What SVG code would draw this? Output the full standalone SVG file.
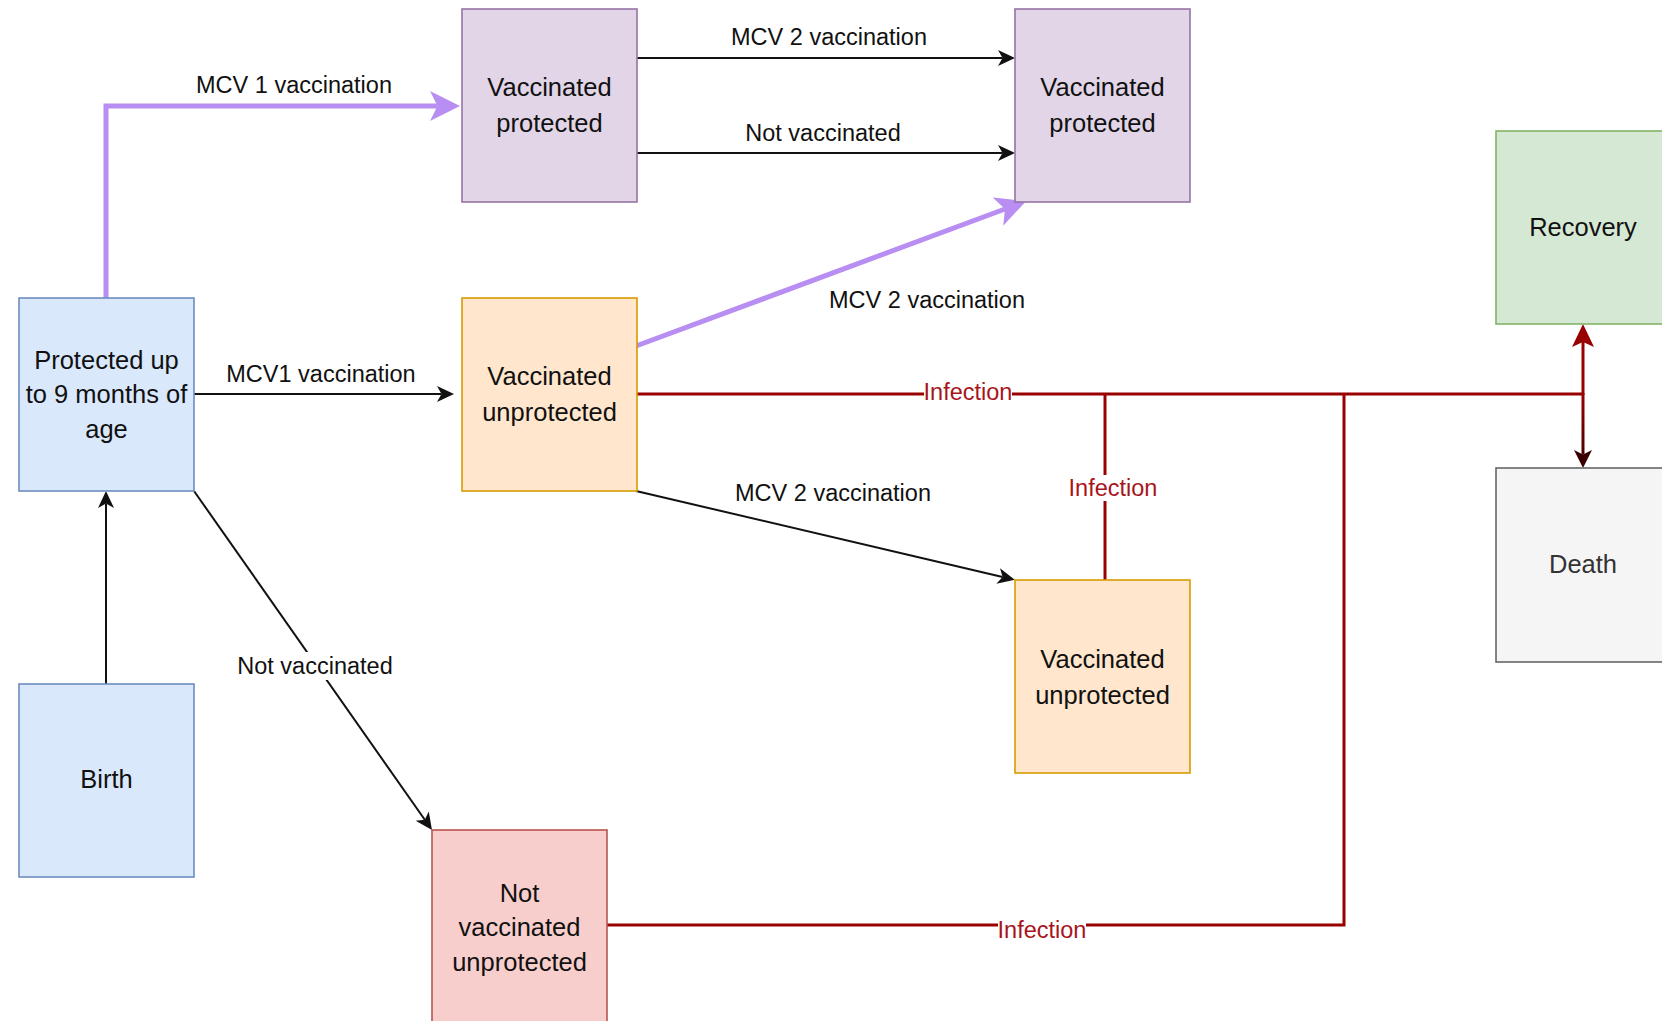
<svg xmlns="http://www.w3.org/2000/svg" width="1662" height="1021" viewBox="0 0 1662 1021">
<style>
  .box { stroke-width: 1.6; }
  .purple { fill: #e1d5e7; stroke: #9673a6; }
  .blue { fill: #dae8fc; stroke: #6c8ebf; }
  .orange { fill: #ffe6cc; stroke: #d79b00; }
  .red { fill: #f8cecc; stroke: #b85450; }
  .green { fill: #d5e8d4; stroke: #82b366; }
  .gray { fill: #f5f5f5; stroke: #666666; }
  .nt { font-family: "Liberation Sans", Arial, sans-serif; font-size: 25.5px; fill: #111; text-anchor: middle; }
  .nt.dim { fill: #333333; }
  .lbl { font-family: "Liberation Sans", Arial, sans-serif; font-size: 23.5px; fill: #111; text-anchor: middle; }
  .inf { font-family: "Liberation Sans", Arial, sans-serif; font-size: 23.5px; fill: #a8141c; text-anchor: middle; }
  .blk { fill: none; stroke: #111; stroke-width: 2; }
  .prp { fill: none; stroke: #b88ef2; stroke-width: 5; }
  .rd { fill: none; stroke: #990000; stroke-width: 3; }
  .bg { fill: #ffffff; }
</style>
<defs>
  <marker id="arrBlack" markerUnits="userSpaceOnUse" markerWidth="18" markerHeight="18" viewBox="0 0 18 18" refX="4.5" refY="9" orient="auto">
    <path d="M0,1 L17,9 L0,17 L4.5,9 Z" fill="#111"/>
  </marker>
  <marker id="arrPurple" markerUnits="userSpaceOnUse" markerWidth="32" markerHeight="32" viewBox="0 0 32 32" refX="7.5" refY="16" orient="auto">
    <path d="M0,1 L30,16 L0,31 L7.5,16 Z" fill="#b88ef2"/>
  </marker>
  <marker id="arrRed" markerUnits="userSpaceOnUse" markerWidth="24" markerHeight="24" viewBox="0 0 24 24" refX="5" refY="12" orient="auto">
    <path d="M0,1 L23,12 L0,23 L5,12 Z" fill="#990000"/>
  </marker>
  <marker id="arrDark" markerUnits="userSpaceOnUse" markerWidth="20" markerHeight="20" viewBox="0 0 20 20" refX="4.5" refY="10" orient="auto">
    <path d="M0,1 L18,10 L0,19 L4.5,10 Z" fill="#3a0000"/>
  </marker>
  <linearGradient id="gDown" gradientUnits="userSpaceOnUse" x1="0" y1="394" x2="0" y2="468">
    <stop offset="0" stop-color="#990000"/>
    <stop offset="1" stop-color="#3a0000"/>
  </linearGradient>
</defs>

<g id="connectors">
  <!-- Protected -> VP1 (purple) -->
  <path class="prp" d="M106,298 V106 H437.5" marker-end="url(#arrPurple)"/>
  <!-- VP1 -> VP2 -->
  <path class="blk" d="M636,58 H1002.5" marker-end="url(#arrBlack)"/>
  <path class="blk" d="M636,153 H1002.5" marker-end="url(#arrBlack)"/>
  <!-- VU1 -> VP2 (purple) -->
  <path class="prp" d="M636,346 L1005,209" marker-end="url(#arrPurple)"/>
  <!-- Protected -> VU1 -->
  <path class="blk" d="M194,394 H441.5" marker-end="url(#arrBlack)"/>
  <!-- VU1 -> VU2 -->
  <path class="blk" d="M636,491 L1002.6,577" marker-end="url(#arrBlack)"/>
  <!-- Protected -> NVU -->
  <path class="blk" d="M194,491 L424.8,819.8" marker-end="url(#arrBlack)"/>
  <!-- Birth -> Protected -->
  <path class="blk" d="M106,684 V503.5" marker-end="url(#arrBlack)"/>
  <!-- Infection lines -->
  <path class="rd" d="M636,394 H1583"/>
  <path class="rd" d="M1105,580 V394"/>
  <path class="rd" d="M606,925 H1344 V394"/>
  <path class="rd" d="M1583,395 V342" marker-end="url(#arrRed)"/>
  <path d="M1583,393 V454.5" fill="none" stroke="url(#gDown)" stroke-width="3" marker-end="url(#arrDark)"/>

  <!-- labels -->
  <text class="lbl" x="294" y="93">MCV 1 vaccination</text>
  <text class="lbl" x="829" y="45">MCV 2 vaccination</text>
  <text class="lbl" x="823" y="141">Not vaccinated</text>
  <text class="lbl" x="927" y="308">MCV 2 vaccination</text>
  <text class="lbl" x="321" y="382">MCV1 vaccination</text>
  <text class="lbl" x="833" y="501">MCV 2 vaccination</text>
  <rect class="bg" x="235" y="652" width="160" height="28"/>
  <text class="lbl" x="315" y="674">Not vaccinated</text>
  <rect class="bg" x="924" y="380" width="88" height="26"/>
  <text class="inf" x="968" y="400">Infection</text>
  <rect class="bg" x="1069" y="475" width="88" height="26"/>
  <text class="inf" x="1113" y="496">Infection</text>
  <rect class="bg" x="998" y="917" width="88" height="26"/>
  <text class="inf" x="1042" y="938">Infection</text>
</g>

<g id="n-vp1">
  <rect class="box purple" x="462" y="9" width="175" height="193"/>
  <text class="nt" x="549.5" y="96">Vaccinated</text>
  <text class="nt" x="549.5" y="132">protected</text>
</g>
<g id="n-vp2">
  <rect class="box purple" x="1015" y="9" width="175" height="193"/>
  <text class="nt" x="1102.5" y="96">Vaccinated</text>
  <text class="nt" x="1102.5" y="132">protected</text>
</g>
<g id="n-recovery">
  <rect class="box green" x="1496" y="131" width="175" height="193"/>
  <text class="nt" x="1583" y="236">Recovery</text>
</g>
<g id="n-protected">
  <rect class="box blue" x="19" y="298" width="175" height="193"/>
  <text class="nt" x="106.5" y="369">Protected up</text>
  <text class="nt" x="106.5" y="403">to 9 months of</text>
  <text class="nt" x="106.5" y="438">age</text>
</g>
<g id="n-vu1">
  <rect class="box orange" x="462" y="298" width="175" height="193"/>
  <text class="nt" x="549.5" y="385">Vaccinated</text>
  <text class="nt" x="549.5" y="421">unprotected</text>
</g>
<g id="n-death">
  <rect class="box gray" x="1496" y="468" width="175" height="194"/>
  <text class="nt dim" x="1583" y="573">Death</text>
</g>
<g id="n-vu2">
  <rect class="box orange" x="1015" y="580" width="175" height="193"/>
  <text class="nt" x="1102.5" y="668">Vaccinated</text>
  <text class="nt" x="1102.5" y="704">unprotected</text>
</g>
<g id="n-birth">
  <rect class="box blue" x="19" y="684" width="175" height="193"/>
  <text class="nt" x="106.5" y="788">Birth</text>
</g>
<g id="n-nvu">
  <rect class="box red" x="432" y="830" width="175" height="193"/>
  <text class="nt" x="519.5" y="902">Not</text>
  <text class="nt" x="519.5" y="936">vaccinated</text>
  <text class="nt" x="519.5" y="971">unprotected</text>
</g>
</svg>
